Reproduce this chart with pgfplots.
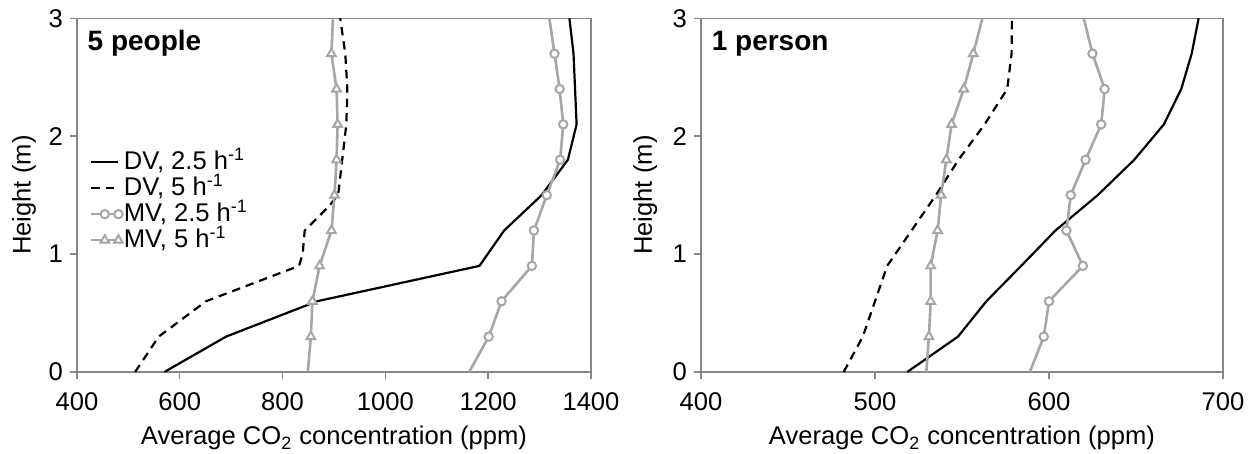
\documentclass[border=0pt]{standalone}
\usepackage{fontspec}
\setmainfont{Liberation Sans}
\usepackage{pgfplots}
\pgfplotsset{compat=1.18}
\definecolor{axgray}{HTML}{868686}
\definecolor{mvgray}{HTML}{A6A6A6}
\tikzset{titlenode/.style={anchor=base west, inner sep=0pt, font=\fontsize{14}{16}\selectfont\bfseries}}
\pgfplotsset{
  co2axis/.style={
    scale only axis, height=176.85pt,
    ymin=0, ymax=3, ytick={0,1,2,3},
    axis line style={axgray, line width=0.7pt},
    tick style={axgray, line width=0.7pt},
    major tick length=3.5pt, tick align=outside,
    xtick pos=bottom, ytick pos=left,
    /pgf/number format/assume math mode=true,
    /pgf/number format/1000 sep={},
    tick label style={font=\fontsize{12.8}{14}\selectfont},
    xticklabel style={yshift=-3.5pt},
    label style={font=\fontsize{12.8}{14}\selectfont},
    xlabel={Average CO\textsubscript{2} concentration (ppm)},
    ylabel={Height (m)},
    xlabel style={at={(axis description cs:0.5,0)}, anchor=base, yshift=-36.5pt},
    clip=false,
  },
  dv25/.style={black, line width=1.1pt, no marks},
  dv5/.style={black, line width=1.1pt, dash pattern=on 4.2pt off 3pt, no marks},
  mv25/.style={mvgray, line width=1.3pt, mark=*, mark size=2.1pt,
    mark options={solid, fill=white, draw=mvgray, line width=1pt}, mark indices={2,...,10}},
  mv5/.style={mvgray, line width=1.3pt, mark=triangle*, mark size=2.5pt,
    mark options={solid, fill=white, draw=mvgray, line width=1pt}, mark indices={2,...,10}},
  legend image code/.code={\draw[mark repeat=2,mark phase=2,#1]
    plot coordinates {(0cm,0cm) (0.24cm,0cm) (0.48cm,0cm)};},
}
\begin{document}
\begin{tikzpicture}
\useasboundingbox (-38.5pt,-41pt) rectangle (589pt,186pt);
\begin{axis}[co2axis, width=257pt,
  xmin=400, xmax=1400, xtick={400,600,800,1000,1200,1400},
  ylabel style={at={(axis description cs:-0.103,0.5)}, anchor=center},
  legend style={at={(rel axis cs:0.025,0.63)}, anchor=north west, draw=none, fill=none,
    inner sep=0pt, outer sep=0pt,
    font=\fontsize{12.8}{12.5}\selectfont, row sep=0pt, column sep=0.5pt,
    nodes={inner sep=0pt, text height=10.2pt, text depth=2.8pt}},
  legend cell align=left,
]
\addplot[dv25] coordinates {(570,0) (690,0.3) (867,0.6) (1183,0.9) (1231,1.2) (1304,1.5)
  (1355,1.8) (1372,2.1) (1369,2.4) (1366,2.7) (1358,3)};
\addlegendentry{DV, 2.5 h\textsuperscript{-1}}
\addplot[dv5] coordinates {(513,0) (559,0.3) (651,0.6) (832,0.9) (839,1.0) (843,1.2) (889,1.4)
  (908,1.5) (916,1.8) (924,2.1) (926,2.4) (922,2.7) (912,3)};
\addlegendentry{DV, 5 h\textsuperscript{-1}}
\addplot[mv25] coordinates {(1163,0) (1201,0.3) (1226,0.6) (1285,0.9) (1289,1.2) (1314,1.5)
  (1340,1.8) (1346,2.1) (1339,2.4) (1329,2.7) (1319,3)};
\addlegendentry{MV, 2.5 h\textsuperscript{-1}}
\addplot[mv5] coordinates {(849,0) (855,0.3) (858,0.6) (872,0.9) (895,1.2) (901,1.5)
  (905,1.8) (907,2.1) (905,2.4) (895,2.7) (898,3)};
\addlegendentry{MV, 5 h\textsuperscript{-1}}
\node[titlenode] at (rel axis cs:0.02,0.91) {5 people};
\end{axis}
\begin{axis}[co2axis, width=261pt, at={(312pt,0)},
  xmin=400, xmax=700, xtick={400,500,600,700},
  ylabel style={at={(axis description cs:-0.107,0.5)}, anchor=center},
]
\addplot[dv25] coordinates {(518.5,0) (547.7,0.3) (564,0.6) (584,0.9) (603.7,1.2) (628,1.5)
  (649,1.8) (666,2.1) (676,2.4) (682,2.7) (686,3)};
\addplot[dv5] coordinates {(482,0) (493,0.3) (500,0.6) (507,0.9) (521,1.2) (535,1.5)
  (548,1.8) (563,2.1) (576,2.4) (578.5,2.7) (578.7,3)};
\addplot[mv25] coordinates {(589,0) (597,0.3) (600,0.6) (619.5,0.9) (610,1.2) (612.5,1.5)
  (621,1.8) (630,2.1) (632,2.4) (625,2.7) (620,3)};
\addplot[mv5] coordinates {(529.5,0) (531,0.3) (532,0.6) (532,0.9) (536,1.2) (538,1.5)
  (541,1.8) (544,2.1) (551,2.4) (556.5,2.7) (561.7,3)};
\node[titlenode] at (rel axis cs:0.02,0.91) {1 person};
\end{axis}
\end{tikzpicture}
\end{document}
